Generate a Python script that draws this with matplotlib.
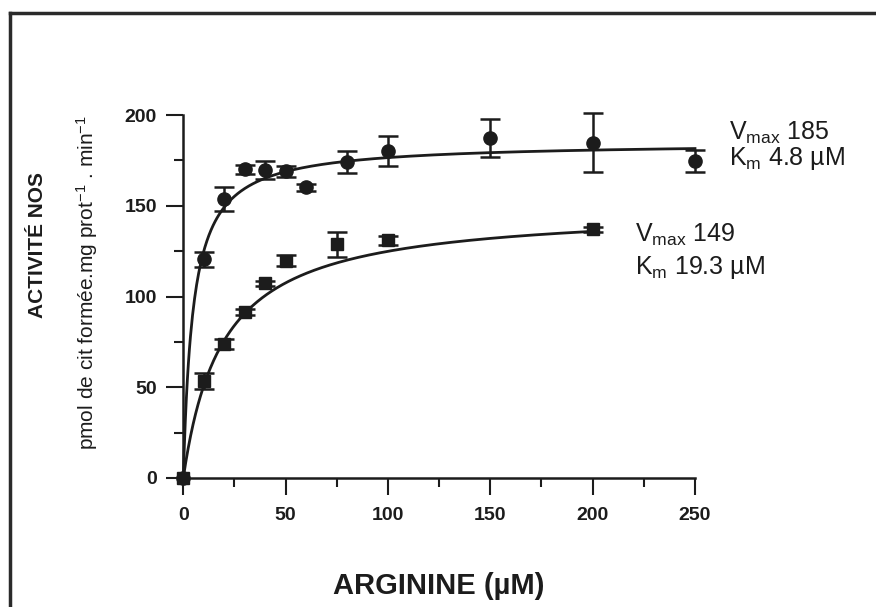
import matplotlib
matplotlib.use("Agg")
import matplotlib.pyplot as plt
from matplotlib.lines import Line2D
from matplotlib.ticker import MultipleLocator
import numpy as np

plt.rcParams['font.family'] = ['Liberation Sans', 'DejaVu Sans']
plt.rcParams['mathtext.fontset'] = 'custom'
plt.rcParams['mathtext.rm'] = 'Liberation Sans'
plt.rcParams['mathtext.it'] = 'Liberation Sans:italic'
plt.rcParams['mathtext.bf'] = 'Liberation Sans:bold'

# Substrate concentrations (µM) and NOS activity (pmol cit / mg prot / min)
arg_high = [0, 10, 20, 30, 40, 50, 60, 80, 100, 150, 200, 250]
nos_high = [0, 120.5, 153.7, 170.2, 169.7, 169.1, 160.2, 174.3, 180.2, 187.5, 184.7, 174.7]
err_high = [0, 4.0, 6.4, 2.5, 5.0, 3.0, 2.0, 6.0, 8.4, 10.5, 16.2, 6.2]

arg_low = [0, 10, 20, 30, 40, 50, 75, 100, 200]
nos_low = [0, 53.7, 74.0, 91.5, 107.3, 119.6, 128.7, 131.1, 137.0]
err_low = [0, 4.4, 2.8, 1.5, 1.5, 3.0, 6.9, 2.5, 1.5]

# Michaelis-Menten parameters
vmax_high, km_high = 185, 4.8
vmax_low, km_low = 149, 19.3

x_ticks = [0, 50, 100, 150, 200, 250]
y_ticks = [0, 50, 100, 150, 200]

W, H = 876, 607
fig = plt.figure(figsize=(W / 100, H / 100), dpi=100)
ax = fig.add_axes([183.3 / W, 1 - 478 / H, 511.7 / W, 363 / H])

ink = '#1c1c1c'


def mm(s, vmax, km):
    return vmax * s / (km + s)


# fitted saturation curves
s_high = np.linspace(0, max(arg_high), 500)
s_low = np.linspace(0, max(arg_low), 500)
ax.plot(s_high, mm(s_high, vmax_high, km_high), color=ink, lw=2.0,
        clip_on=False, zorder=2)
ax.plot(s_low, mm(s_low, vmax_low, km_low), color=ink, lw=2.0,
        clip_on=False, zorder=2)

# error bars (points with a measured spread)
for xs, ys, es in ((arg_high, nos_high, err_high), (arg_low, nos_low, err_low)):
    xs, ys, es = np.asarray(xs), np.asarray(ys), np.asarray(es)
    m = es > 0
    ax.errorbar(xs[m], ys[m], yerr=es[m], fmt='none', ecolor=ink,
                elinewidth=1.8, capsize=7.5, capthick=1.8, clip_on=False,
                zorder=3)

ax.plot(arg_high, nos_high, 'o', color=ink, ms=9.5, clip_on=False, zorder=4)
ax.plot(arg_low, nos_low, 's', color=ink, ms=8.5, clip_on=False, zorder=4)

ax.set_xlim(0, 250)
ax.set_ylim(0, 200)
ax.set_xticks(x_ticks)
ax.set_yticks(y_ticks)
ax.set_xticklabels([str(t) for t in x_ticks])
ax.set_yticklabels([str(t) for t in y_ticks])
ax.xaxis.set_minor_locator(MultipleLocator(25))
ax.yaxis.set_minor_locator(MultipleLocator(25))

for side in ('top', 'right'):
    ax.spines[side].set_visible(False)
for side in ('left', 'bottom'):
    ax.spines[side].set_linewidth(1.8)
    ax.spines[side].set_color(ink)

ax.tick_params(which='major', direction='out', length=12, width=1.5,
               colors=ink)
ax.tick_params(which='minor', direction='out', length=6.5, width=1.5,
               colors=ink)
ax.tick_params(axis='x', which='major', pad=9)
ax.tick_params(axis='y', which='major', pad=7)
for lab in ax.get_xticklabels() + ax.get_yticklabels():
    lab.set_fontsize(14)
    lab.set_fontweight('bold')
    lab.set_color(ink)

ax.set_xlabel('ARGININE (µM)', fontsize=21, fontweight='bold', color=ink,
              va='center')
ax.xaxis.set_label_coords(0.5, (478 - 586) / 363)

ax.set_ylabel(r'pmol de cit formée.mg prot$^{\mathrm{-1}}$ . min$^{\mathrm{-1}}$',
              fontsize=15, color=ink, va='center')
ax.yaxis.set_label_coords((87 - 183.3) / 511.7, (478 - 283) / 363)

fig.text(38 / W, 1 - 245 / H, 'ACTIVITÉ NOS', rotation=90, fontsize=15,
         fontweight='bold', color=ink, ha='center', va='center')

# kinetic constants
ann = [
    (729, 139.5, r'V$_{\mathrm{max}}$ 185'),
    (729, 165.0, r'K$_{\mathrm{m}}$ 4.8 µM'),
    (635, 241.7, r'V$_{\mathrm{max}}$ 149'),
    (635, 274.0, r'K$_{\mathrm{m}}$ 19.3 µM'),
]
for px, py, txt in ann:
    fig.text(px / W, 1 - py / H, txt, fontsize=18, color=ink,
             ha='left', va='baseline')

# frame lines around the panel
fig.add_artist(Line2D([10 / W, 1.0], [1 - 13 / H, 1 - 13 / H],
                      transform=fig.transFigure, color='#2a2a2a', lw=2.5))
fig.add_artist(Line2D([10 / W, 10 / W], [1 - 13 / H, 0.0],
                      transform=fig.transFigure, color='#2a2a2a', lw=2.5))

fig.savefig('out.png', dpi=100, facecolor='white')
